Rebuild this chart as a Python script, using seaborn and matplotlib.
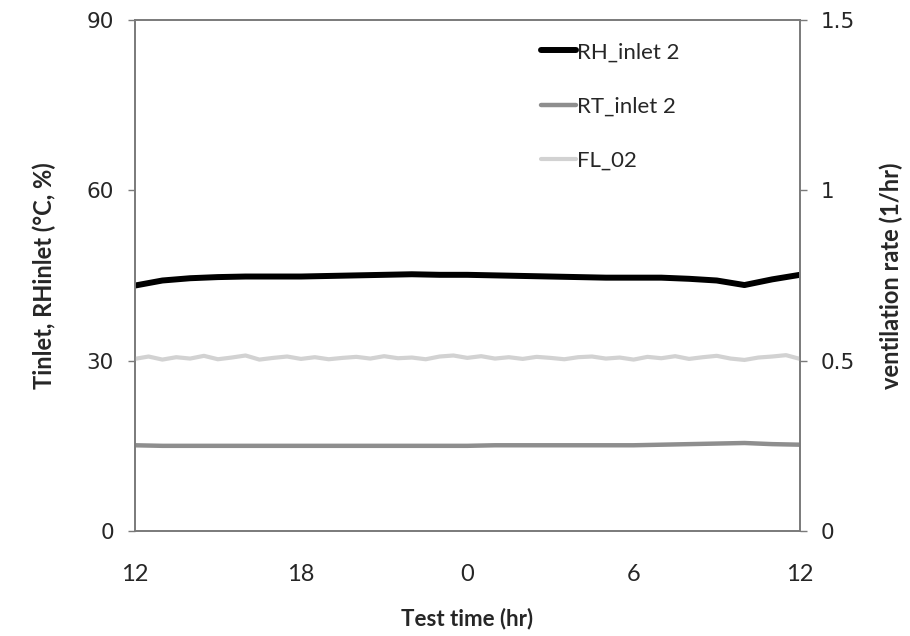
import pandas as pd
import matplotlib
matplotlib.use("Agg")
import matplotlib.pyplot as plt
import seaborn as sns

# test time in hours (12 noon day 1 -> 12 noon day 2)
hours = [12, 13, 14, 15, 16, 17, 18, 19, 20, 21, 22, 23, 24,
         25, 26, 27, 28, 29, 30, 31, 32, 33, 34, 35, 36]
rh_inlet = [43.2, 44.1, 44.5, 44.7, 44.8, 44.8, 44.8, 44.9, 45.0, 45.1, 45.2, 45.1, 45.1,
            45.0, 44.9, 44.8, 44.7, 44.6, 44.6, 44.6, 44.4, 44.1, 43.3, 44.3, 45.1]
rt_inlet = [15.1, 15.0, 15.0, 15.0, 15.0, 15.0, 15.0, 15.0, 15.0, 15.0, 15.0, 15.0, 15.0,
            15.1, 15.1, 15.1, 15.1, 15.1, 15.1, 15.2, 15.3, 15.4, 15.5, 15.3, 15.2]

fl_hours = [12, 12.5, 13, 13.5, 14, 14.5, 15, 15.5, 16, 16.5, 17, 17.5, 18, 18.5, 19, 19.5,
            20, 20.5, 21, 21.5, 22, 22.5, 23, 23.5, 24, 24.5, 25, 25.5, 26, 26.5, 27, 27.5,
            28, 28.5, 29, 29.5, 30, 30.5, 31, 31.5, 32, 32.5, 33, 33.5, 34, 34.5, 35, 35.5, 36]
fl_02 = [0.505, 0.512, 0.503, 0.510, 0.506, 0.514, 0.504, 0.509, 0.515, 0.503, 0.508, 0.512,
         0.505, 0.510, 0.504, 0.508, 0.511, 0.506, 0.513, 0.507, 0.509, 0.504, 0.512, 0.515,
         0.508, 0.513, 0.506, 0.510, 0.505, 0.511, 0.508, 0.504, 0.510, 0.512, 0.506, 0.509,
         0.503, 0.511, 0.507, 0.513, 0.505, 0.510, 0.514, 0.506, 0.502, 0.509, 0.512, 0.516, 0.505]

xticks = [12, 18, 24, 30, 36]
xtick_labels = ["12", "18", "0", "6", "12"]

df = pd.DataFrame({"hours": hours, "RH_inlet 2": rh_inlet, "RT_inlet 2": rt_inlet})
fl = pd.DataFrame({"hours": fl_hours, "FL_02": fl_02})

sns.set_style("white")
plt.rcParams["font.family"] = ["Lato", "DejaVu Sans"]

fig = plt.figure(figsize=(9.1, 6.36), dpi=100)
ax = fig.add_axes([0.148, 0.165, 0.731, 0.804])
ax2 = ax.twinx()

sns.lineplot(data=df, x="hours", y="RH_inlet 2", ax=ax, color="black", linewidth=4.3, label="RH_inlet 2", legend=False)
sns.lineplot(data=df, x="hours", y="RT_inlet 2", ax=ax, color="#8e8e8e", linewidth=3.2, label="RT_inlet 2", legend=False)
sns.lineplot(data=fl, x="hours", y="FL_02", ax=ax2, color="#d2d2d2", linewidth=3, label="FL_02", legend=False)

ax.set_xlim(12, 36)
ax.set_ylim(0, 90)
ax2.set_ylim(0, 1.5)
ax.set_xticks(xticks)
ax.set_xticklabels(xtick_labels, fontsize=17)
ax.set_yticks([0, 30, 60, 90])
ax.set_yticklabels(["0", "30", "60", "90"], fontsize=15.5, family="DejaVu Sans")
ax2.set_yticks([0, 0.5, 1, 1.5])
ax2.set_yticklabels(["0", "0.5", "1", "1.5"], fontsize=15.5, family="DejaVu Sans")

ax.set_xlabel("Test time (hr)", fontsize=16, fontweight="bold", labelpad=16)
ax.set_ylabel("Tinlet, RHinlet (°C, %)", fontsize=17, fontweight="bold", labelpad=22)
ax2.set_ylabel("ventilation rate (1/hr)", fontsize=17, fontweight="bold", labelpad=18)

for a in (ax, ax2):
    for s in a.spines.values():
        s.set_color("#7a7a7a")
        s.set_linewidth(1.2)
    a.tick_params(direction="out", length=5, width=1, color="#7a7a7a", pad=10)
ax.tick_params(axis="x", pad=19)

h1, l1 = ax.get_legend_handles_labels()
h2, l2 = ax2.get_legend_handles_labels()
ax.legend(h1 + h2, l1 + l2, loc="upper left", bbox_to_anchor=(0.58, 0.995), frameon=False,
          fontsize=16, handlelength=1.6, handletextpad=0.05, labelspacing=1.55)

fig.savefig("out.png", dpi=100)
